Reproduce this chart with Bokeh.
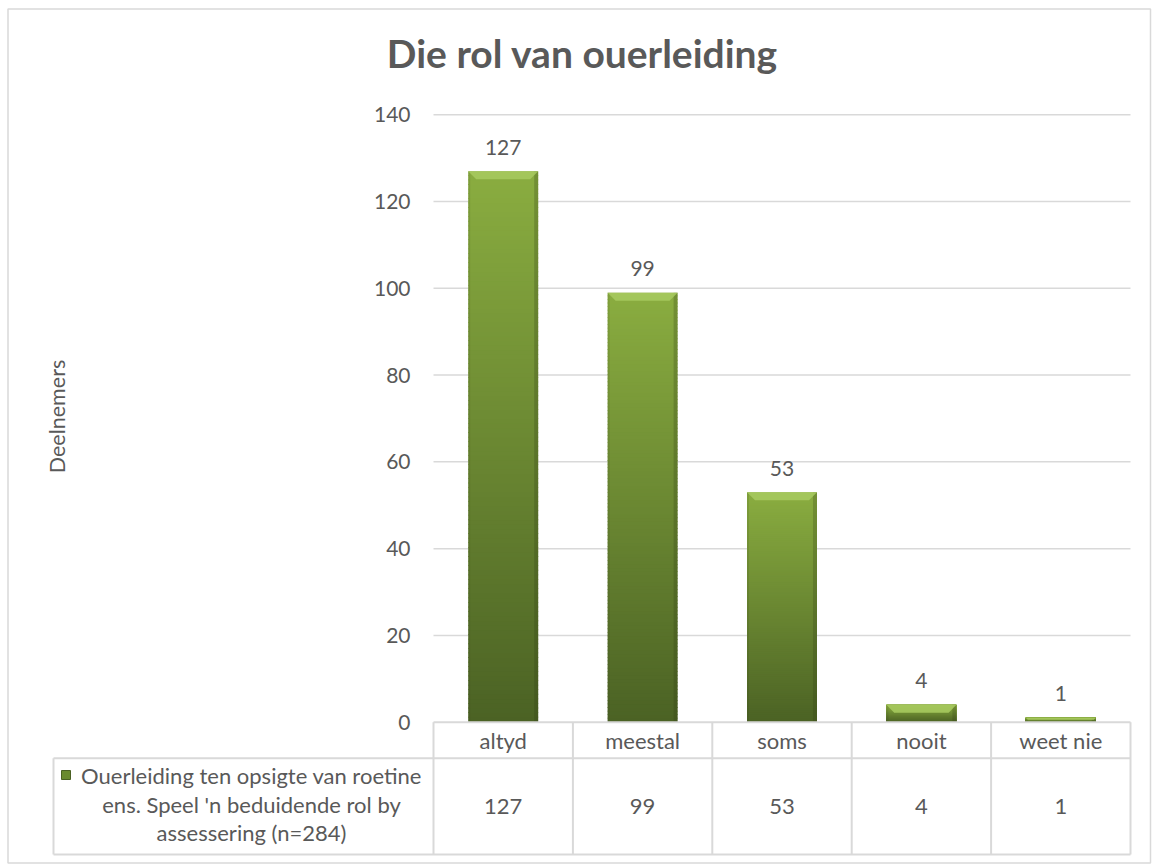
import numpy as np
from bokeh.plotting import figure
from bokeh.models import Range1d
from bokeh.core.properties import value
from bokeh.embed import file_html
from bokeh.resources import INLINE

# ---------------- data ----------------
title = "Die rol van ouerleiding"
categories = ["altyd", "meestal", "soms", "nooit", "weet nie"]
counts = [127, 99, 53, 4, 1]
y_ticks = [0, 20, 40, 60, 80, 100, 120, 140]
y_label = "Deelnemers"
series_lines = ["Ouerleiding ten opsigte van roetine",
                "ens. Speel 'n beduidende rol by",
                "assessering (n=284)"]

# ---------------- layout (canvas pixels -> data units) ----------------
W, H = 1154, 864
PX0, PX_CAT = 433.0, 139.4      # x pixel where category 0 starts, pixels per category
PY0, PY_UNIT = 721.7, 4.339     # y pixel of value 0, pixels per value unit


def X(px):
    return (px - PX0) / PX_CAT


def Y(py):
    return (PY0 - py) / PY_UNIT


FONT = value("Lato")
TXT = "#595959"
GRID = "#d9d9d9"

p = figure(width=W, height=H, output_backend="svg", toolbar_location=None,
           x_range=Range1d(X(0), X(W)), y_range=Range1d(Y(H), Y(0)),
           x_axis_location=None, y_axis_location=None, min_border=0)
p.xgrid.visible = False
p.ygrid.visible = False
p.outline_line_color = None
p.background_fill_color = "white"
p.border_fill_color = "white"

ncat = len(categories)
xl, xr = 0.0, float(ncat)

# outer chart border
p.quad(left=[X(7.5)], right=[X(1150)], bottom=[Y(862.5)], top=[Y(8.5)],
       fill_color=None, line_color=GRID, line_width=1.5)

# gridlines (0 line is the table top)
gt = [t for t in y_ticks if t > 0]
p.segment(x0=[xl] * len(gt), x1=[xr] * len(gt), y0=gt, y1=gt,
          line_color=GRID, line_width=1.5)

# y tick labels
p.text(x=[X(410)] * len(y_ticks), y=y_ticks, text=[str(t) for t in y_ticks],
       text_font=FONT, text_font_size="21px", text_color=TXT,
       text_align="right", text_baseline="middle")

# y axis title
p.text(x=[X(56)], y=[Y(416)], text=[y_label], angle=np.pi / 2,
       text_font=FONT, text_font_size="21.5px", text_color=TXT,
       text_align="center", text_baseline="middle")

# title
p.text(x=[X(582)], y=[Y(52)], text=[title], text_font=FONT,
       text_font_size="39px", text_font_style="bold", text_color=TXT,
       text_align="center", text_baseline="alphabetic")

# ---------------- bars with vertical gradient ----------------
BW = 0.502
N = 120
c_bot = np.array([0x4b, 0x62, 0x24], dtype=float)
c_top = np.array([0x8a, 0xad, 0x40], dtype=float)
ov = 0.8 / PY_UNIT
L, R, B, T, C = [], [], [], [], []
for i, v in enumerate(counts):
    cx = i + 0.5
    for k in range(N):
        f0, f1 = k / N, (k + 1) / N
        f = (f0 + f1) / 2
        col = c_bot + (c_top - c_bot) * f
        L.append(cx - BW / 2)
        R.append(cx + BW / 2)
        B.append(v * f0)
        T.append(min(v, v * f1 + ov))
        C.append("#%02x%02x%02x" % tuple(int(round(c)) for c in col))
p.quad(left=L, right=R, bottom=B, top=T, fill_color=C, line_color=None)

# side shading and bevel
px_x = 1.0 / PX_CAT
px_y = 1.0 / PY_UNIT
sl, sr, sb, st = [], [], [], []
ll, lr = [], []
bx, by = [], []
for i, v in enumerate(counts):
    cx = i + 0.5
    hpx = v * PY_UNIT
    d = min(8.0, hpx * 0.45)
    x0, x1 = cx - BW / 2, cx + BW / 2
    sl.append(x1 - 4 * px_x); sr.append(x1); sb.append(0); st.append(v)
    ll.append(x0); lr.append(x0 + 2 * px_x)
    bx.append([x0, x1, x1 - d * px_x, x0 + d * px_x])
    by.append([v, v, v - d * px_y, v - d * px_y])
p.quad(left=sl, right=sr, bottom=sb, top=st, fill_color="#2f3d15",
       fill_alpha=0.25, line_color=None)
p.quad(left=ll, right=lr, bottom=sb, top=st, fill_color="#2f3d15",
       fill_alpha=0.12, line_color=None)
p.patches(xs=bx, ys=by, fill_color="#a6c95e", fill_alpha=0.9, line_color=None)

# data labels
p.text(x=[i + 0.5 for i in range(ncat)], y=counts, text=[str(v) for v in counts],
       y_offset=-24, text_font=FONT, text_font_size="21px", text_color=TXT,
       text_align="center", text_baseline="middle")

# ---------------- data table ----------------
LW = 2
row_top = 0.0
row_mid = Y(757.7)
row_bot = Y(854)
left_edge = X(53)
p.segment(x0=[xl, left_edge, left_edge], x1=[xr, xr, xr],
          y0=[row_top, row_mid, row_bot], y1=[row_top, row_mid, row_bot],
          line_color=GRID, line_width=LW)
vx = [float(k) for k in range(ncat + 1)]
p.segment(x0=vx, x1=vx, y0=[row_top] * len(vx), y1=[row_bot] * len(vx),
          line_color=GRID, line_width=LW)
p.segment(x0=[left_edge], x1=[left_edge], y0=[row_mid], y1=[row_bot],
          line_color=GRID, line_width=LW)

# header (category labels)
p.text(x=[i + 0.5 for i in range(ncat)], y=[Y(740)] * ncat, text=categories,
       text_font=FONT, text_font_size="22px", text_color=TXT,
       text_align="center", text_baseline="middle")
# values row
p.text(x=[i + 0.5 for i in range(ncat)], y=[Y(806)] * ncat,
       text=[str(v) for v in counts],
       text_font=FONT, text_font_size="22px", text_color=TXT,
       text_align="center", text_baseline="middle")

# series name with legend key
line_y = [Y(775), Y(804), Y(832)]
p.text(x=[X(251)] * 3, y=line_y, text=series_lines,
       text_font=FONT, text_font_size="22px", text_color=TXT,
       text_align="center", text_baseline="middle")
p.quad(left=[X(61)], right=[X(70)], bottom=[Y(779)], top=[Y(770)],
       fill_color="#6a8a2e", line_color="#4a6023", line_width=1)

open("out.html", "w").write(file_html(p, INLINE))
